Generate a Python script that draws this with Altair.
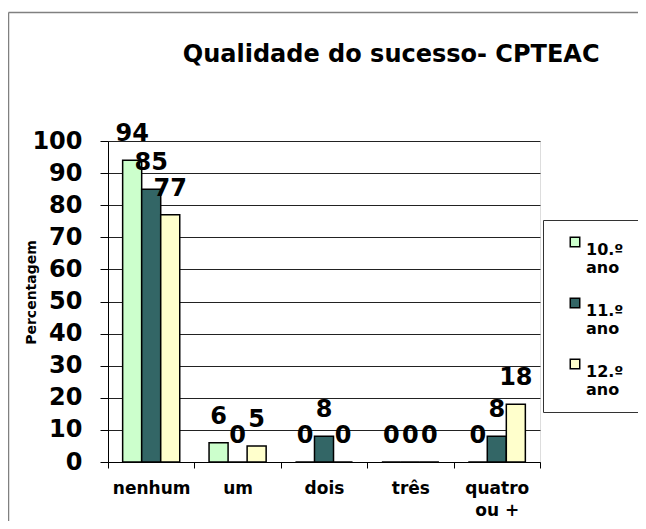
import altair as alt
import pandas as pd

categories = ["nenhum", "um", "dois", "três", "quatro ou +"]
series = ["10.º ano", "11.º ano", "12.º ano"]
v10 = [94, 6, 0, 0, 0]
v11 = [85, 0, 8, 0, 8]
v12 = [77, 5, 0, 0, 18]
colors = ["#CCFFCC", "#336666", "#FFFFCC"]

rows = []
for s, vals in zip(series, [v10, v11, v12]):
    for c, v in zip(categories, vals):
        rows.append({"cat": c, "serie": s, "val": v})
df = pd.DataFrame(rows)

FONT = "DejaVu Sans"

base = alt.Chart(df).encode(
    x=alt.X("cat:N", sort=categories,
            scale=alt.Scale(paddingInner=0, paddingOuter=0),
            axis=alt.Axis(title=None, labelAngle=0, tickBand="extent",
                          labelFont=FONT, labelFontSize=17, labelFontWeight="bold",
                          labelColor="black", labelPadding=12, labelLineHeight=22,
                          labelExpr="datum.label == 'quatro ou +' ? ['quatro', 'ou +'] : datum.label",
                          tickSize=6, tickColor="black", domainColor="black",
                          grid=False)),
    xOffset=alt.XOffset("serie:N", sort=series,
                        scale=alt.Scale(paddingInner=0, paddingOuter=0.77)),
    y=alt.Y("val:Q", scale=alt.Scale(domain=[0, 100], nice=False),
            axis=alt.Axis(title="Percentagem", values=list(range(0, 101, 10)),
                          labelFont=FONT, labelFontSize=24, labelFontWeight="bold",
                          labelColor="black", labelPadding=18,
                          tickSize=8, tickColor="black", domainColor="black",
                          gridColor="#222222", gridWidth=1,
                          titleFont=FONT, titleFontSize=14, titleFontWeight="bold",
                          titleColor="black", titleAngle=270, titleAlign="center",
                          titleBaseline="alphabetic", titleX=-73, titleY=151)),
)

bars = base.mark_bar(stroke="black", strokeWidth=1.5).encode(
    color=alt.Color("serie:N", sort=series,
                    scale=alt.Scale(domain=series, range=colors),
                    legend=alt.Legend(title=None, orient="none", legendX=435, legendY=79,
                                      labelExpr="split(datum.label, ' ')",
                                      labelFont=FONT, labelFontSize=16, labelFontWeight="bold",
                                      labelColor="black", labelBaseline="top", labelLimit=200,
                                      labelOffset=3,
                                      symbolType="square", symbolSize=90,
                                      symbolStrokeColor="black", symbolStrokeWidth=1.5,
                                      symbolOffset=10, rowPadding=19, padding=14,
                                      strokeColor="#333333", fillColor="white"))
)

labels = base.mark_text(dy=-19, baseline="alphabetic", font=FONT, fontSize=24,
                        fontWeight="bold", color="black").encode(text="val:Q")

frame = alt.Data(values=[{}])
border_left = alt.Chart(frame).mark_rule(color="#808080", strokeWidth=1.5).encode(
    x=alt.value(-99.5), y=alt.value(-128.5), y2=alt.value(395))
border_top = alt.Chart(frame).mark_rule(color="#808080", strokeWidth=1.5).encode(
    x=alt.value(-99.5), x2=alt.value(540), y=alt.value(-128.5))

chart = alt.layer(border_left, border_top, bars, labels).properties(
    width=432, height=321,
    autosize=alt.AutoSizeParams(type="none"),
    padding={"left": 100, "top": 133, "right": 98, "bottom": 59},
    title=alt.TitleParams("Qualidade do sucesso- CPTEAC", anchor="start", dx=175,
                          offset=0, dy=74, baseline="alphabetic", font=FONT, fontSize=24,
                          fontWeight="bold", color="black"),
).configure_view(stroke="#888888", strokeWidth=2).configure(background="white")

chart.save("out.html", embed_options={"renderer": "svg", "actions": False})
